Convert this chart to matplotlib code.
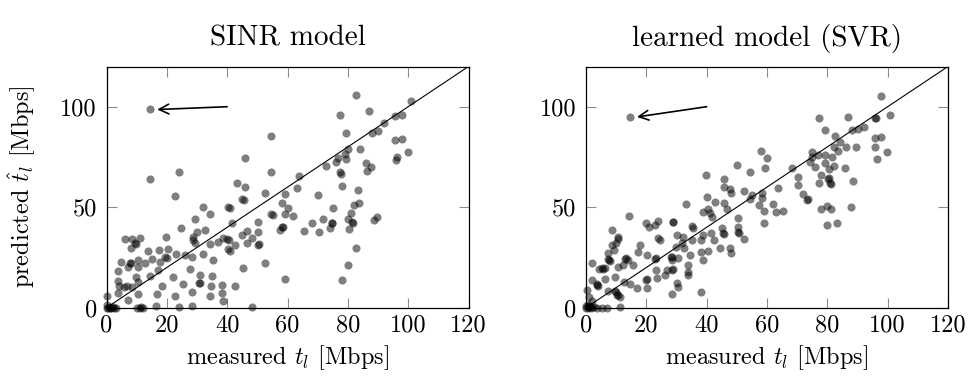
import numpy as np
import matplotlib
matplotlib.use("Agg")
from matplotlib import pyplot as plt

# measured vs predicted throughput (Mbps)
sinr_pts = [
  (14.5,98.7),(54.4,85.4),(45.9,74.3),(24.1,67.4),(14.4,63.9),(54.4,67.7),(43.1,62.2),(45.9,59.9),(52.5,57.2),
  (82.6,105.8),(100.9,103),(77.3,95.9),(87,97.9),(95.6,95.4),(97.8,95.9),(92.1,91.7),(79.3,87.1),(88.1,87.1),
  (90.1,87.8),(95.6,83.4),(97.8,83.8),(99.8,77.6),(96.4,74.8),(95.9,73.5),(84,79.1),(80,79.1),(79.1,76.5),
  (79.4,73.8),(76.6,74.3),(76,72.6),(72.8,70.5),(77.4,67.7),(77.6,66.5),(85.9,72.1),(87.7,70.1),(86.2,68.2),
  (63.9,65.7),(63,59.7),(78,60.5),(83.3,58.6),
  (22.7,55.6),(44.8,53.9),(45.7,53.4),(54.4,46.6),(32.1,49.9),(40.4,49.9),(41,49.5),(34.3,46.6),(29.3,44),
  (41.7,42.3),(24.7,39.5),(50.1,42.8),(29.9,37.8),(32.7,38.7),(46.5,38.3),(50.1,37.5),(28.8,35.3),(19.7,35.3),
  (44.8,36.2),(48.1,34.5),(50.3,31.2),(50.6,31.6),(38.7,34.5),(40,34),(40.5,33.5),(37.1,32.8),(46.5,32),
  (42.6,31.2),(28.8,33.8),(29.3,32),(34.3,31.7),(9.4,32),(9.8,31.5),(8.4,34),(6.1,34),(11.1,34.5),(8.1,29.5),
  (40.4,29),(41,28.4),(13.9,28.2),(17.5,28.7),(20.5,29.2),(23,26.7),(19.4,25.4),(19.9,24.5),(15,24.2),
  (10.5,23.7),(7.8,22.4),(8.1,22),(4.8,22.9),(12.8,22.1),(7.2,20.1),(10.5,20.1),(17.7,22.9),(26,26.2),
  (28.2,25.4),(32.1,26.7),(35.4,23.7),(45.3,19.6),(52.5,22.1),(27.7,19.1),(31,16.3),(34.9,15.8),(22.1,15.4),
  (17.2,18.8),(14.4,15.8),(9.8,15.4),(3.9,18.4),(3.9,13.4),(6.7,10.8),(5.9,10.5),(8.6,10.2),(10.5,12.9),
  (18.3,10.8),(25.5,11.8),(30.7,12.4),(30.9,12.1),(34.6,10.8),(38.2,11.3),(42.6,10.8),(22.7,5.8),(16.6,6.7),
  (28.4,8),(34.3,5.8),(38.2,7.2),(38.7,3.5),(10.5,6.8),(3.9,7.2),(7.2,3.8),(0.1,5.8),(16.4,0.8),(10,0),
  (11,0),(12,0),(11.5,0.3),(24,0.5),(28.4,0.8),(48.1,0.5),(4.3,10.8),
  (0,0),(0.5,0),(1,0.2),(1.5,0),(2,0.3),(2.5,0),(3,0),(0,1.5),(1,0),
  (59.2,56.6),(70.2,56.1),(58.1,51.9),(60.1,49.5),(59.2,46.6),(55.3,46.1),(61.9,45.6),(75.2,49.5),(82.1,51.1),
  (83.8,52.2),(81,47),(80.1,44),(81.5,42.8),(81.8,42.3),(89.6,45),(88.8,43.7),(71.9,44),(74.6,42.3),(74.9,42),
  (74.1,39.8),(68.2,42),(58.3,40.3),(58.6,40),(57.5,38.7),(65.6,38.2),(70.4,37.8),(80.4,39),(82.6,29.5),
  (79.9,21.2),(78.2,13.8),(59.2,14.1),
]
svr_pts = [
  (14.6,95),(50.2,71),(54.4,67.4),(39.8,66),(45.7,63.9),(45.7,60.2),(47.7,58.9),(52.4,58.2),
  (97.7,105.3),(100.9,95.9),(95.8,94.2),(96.1,94.6),(77.2,94.2),(86.9,95),(92.1,90),(90.3,88.9),(88.1,88.4),
  (79.2,88.4),(82.5,85.4),(84.2,82.6),(82.3,79.8),(86.2,79.8),(89.5,79.8),(83.6,78.1),(95.8,84.3),(97.8,85.1),
  (95.8,80.1),(99.7,77.6),(96.6,73.8),(58,78),(59.9,74.3),(59.3,69.3),(75,77.3),(74.8,75),(77,76.1),(79.2,76.1),
  (81.6,75.2),(74.2,72.6),(79.2,72.1),(82.3,70.5),(75.9,69.8),(80.5,68.9),(85.8,69.3),(77.9,66),(68.2,69.3),
  (70.2,65.2),(80.1,63.9),(80.4,64.3),(80.9,61.9),(81.2,61.5),(77.2,61.9),(88.4,63.2),(70.4,61),(63.7,59.4),
  (72,56.6),(73.1,53.6),(73.6,53.9),(58.2,56.9),(54.9,56.1),(58.2,54.5),(57.3,51.1),(59.1,48.3),(61.9,51.6),
  (63,47.5),(65.4,48.3),(59.1,42),(77.9,49.1),(79.8,50.6),(81.2,49),(87.7,50.2),(79.8,41.1),(83.3,42.3),
  (48.1,57.2),(54.4,53.9),(40,54.9),(42.8,52.7),(45.9,51.9),(33.1,51.6),(38.7,47.8),(40.5,48.9),(41,47),
  (46.6,48.9),(50.5,44.5),(41.7,45),(35,40.6),(35.4,39.6),(28.7,42.8),(29,42.4),(24,43.3),(22.9,41.1),
  (19.8,42),(20.9,40.2),(14.3,45.6),(8.5,38.7),(10.5,35),(10.6,34),(45,39.5),(45.5,37),(45.8,36.6),
  (50.5,40.3),(50.5,37.8),(50.8,37.4),(52.5,34),(41.4,37),(42.5,33.7),(38.9,36.2),(38.1,33.7),(44.4,29.5),
  (47.7,29.5),(48,27.1),(40.5,28.4),(38.1,27.5),(38.9,23.7),(34.5,26.2),(32.6,29.5),(30.1,36.2),(32.3,35.4),
  (35,33.7),(31.7,32),(29.9,30.4),(24.5,33.7),(24,34.5),(17.9,31.2),(17.3,27.8),(20.1,26.2),(22.9,24.1),
  (23.2,24.5),(28.3,25.1),(28.6,25.4),(28.4,23.7),(30.6,24.5),(33.9,21.2),(28.4,18.8),(28.7,19.1),(26.8,18.8),
  (26.3,16.1),(23.4,14.6),(19.8,13.8),(20.1,14.1),(23.3,18.8),(33.9,17.9),(33.7,16.1),(30.1,12.1),(30.6,10.4),
  (28.4,6.8),(38.1,8),(20.1,9.6),(16.8,9.6),(14.6,11.8),(12.7,12.9),(15.7,21.2),(14,23.7),(12.9,24.1),
  (13.2,24.5),(12.4,21.2),(10.7,20.4),(7.4,24.1),(7.9,23),(7.6,23.5),(7.4,27),(9.4,28.7),(8.7,31.2),(10.1,32),
  (2.1,22.1),(4.3,19.1),(5.2,19.6),(5.5,19.3),(6.3,19.6),(9.6,15.4),(6.3,14.1),(3.5,11.8),(4.1,10.8),
  (3.8,11.2),(2.1,13.8),(7.4,8.2),(9.6,8.2),(9.9,8),(10.2,6.5),(10.5,6.2),(11.3,5.5),(0.2,8.8),(1.1,5.1),
  (2,3.5),(3.5,0),(5.2,0),(6.9,0),(11.3,0.5),
  (0,0),(0.5,0),(1,0.3),(1.5,0),(2,0.5),(0,1),(0.5,1.5),(2.5,0.2),(1,1),
]
sinr_meas = [p[0] for p in sinr_pts]
sinr_pred = [p[1] for p in sinr_pts]
svr_meas = [p[0] for p in svr_pts]
svr_pred = [p[1] for p in svr_pts]

titles = ["SINR model", "learned model (SVR)"]
arrow_tail = [(40, 100), (40, 100)]
arrow_head = [(16.8, 98.6), (16.9, 94.9)]
xticks = [0, 20, 40, 60, 80, 100, 120]
yticks = [0, 50, 100]

plt.rcParams['font.family'] = 'cmr10'
plt.rcParams['mathtext.fontset'] = 'cm'
plt.rcParams['axes.unicode_minus'] = False
plt.rcParams['font.size'] = 17.5

fig = plt.figure(figsize=(9.71, 3.82), dpi=100)
ax1 = fig.add_axes([0.1097, 0.1945, 0.3728, 0.6314])
ax2 = fig.add_axes([0.6035, 0.1945, 0.3728, 0.6314])

for i, (ax, xs, ys) in enumerate([(ax1, sinr_meas, sinr_pred), (ax2, svr_meas, svr_pred)]):
  ax.plot([0, 120], [0, 120], 'k', lw=0.8)
  ax.scatter(xs, ys, s=34, c='k', alpha=0.5, linewidths=0, clip_on=False, zorder=3)
  ax.annotate('', xy=arrow_head[i], xytext=arrow_tail[i],
              arrowprops=dict(arrowstyle='->', color='k', lw=1.2, shrinkA=0, shrinkB=0))
  ax.set_xlim(0, 120)
  ax.set_ylim(0, 120)
  ax.set_xticks(xticks)
  ax.set_yticks(yticks)
  ax.tick_params(direction='in', length=7, width=0.8, color='0.55',
                 top=True, right=True)
  ax.tick_params(axis='x', pad=5)
  ax.tick_params(axis='y', pad=7)
  for sp in ax.spines.values():
    sp.set_linewidth(0.9)
  ax.set_title(titles[i], pad=15)
  ax.set_xlabel(r'measured $t_l$ [Mbps]', labelpad=5)

ax1.set_ylabel(r'predicted $\hat{t}_l$ [Mbps]', labelpad=16)

fig.savefig('out.png', dpi=100)
